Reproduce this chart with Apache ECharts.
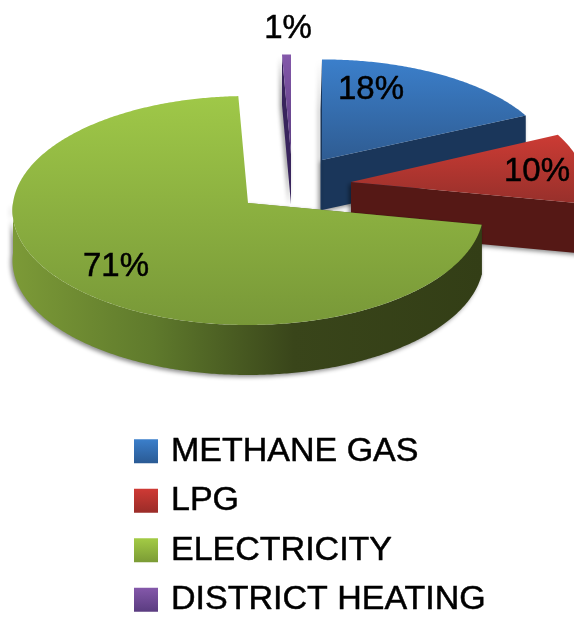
<!DOCTYPE html>
<html><head><meta charset="utf-8">
<style>html,body{margin:0;padding:0;background:#fff}#c{width:574px;height:619px}</style>
<script src="https://cdn.jsdelivr.net/npm/echarts@6/dist/echarts.min.js"></script>
</head><body><div id="c"></div>
<script>
// Data
const categories = ['METHANE GAS', 'LPG', 'ELECTRICITY', 'DISTRICT HEATING'];
const shares = [18, 10, 71.3, 0.7];

// Layout and style
const CENTER = [248, 203], RX = 235, RY = 114, PERSP = 0.0654, DEPTH = 50;
const EXPLODE = [[74, -43, 0.985, 0.94], [103, -21, 1, 1], [0, 0, 1, 1], [43, -49, 0.93, 0.93]];
const LABEL_POS = [[371, 90], [537, 172], [116, 267], [288, 29]];
const lg = (a, b, horizontal) => new echarts.graphic.LinearGradient(0, 0, horizontal ? 1 : 0, horizontal ? 0 : 1, [{offset: 0, color: a}, {offset: 1, color: b}]);
const TOP = [lg('#3b7fcb', '#2f5c92'), lg('#cc3b34', '#97302b'), lg('#9fc848', '#789838'), lg('#8458aa', '#5a3c80')];
const ICON = [lg('#3b7fcb', '#2a5a94'), lg('#cf3a35', '#9a2c28'), lg('#a3cb45', '#7b9b35'), lg('#8458aa', '#5a3c80')];
const WALL = ['#1a365a', '#551815',
  new echarts.graphic.LinearGradient(0, 0, 1, 0, [{offset: 0, color: '#7c9a37'}, {offset: 0.3, color: '#5f7a2c'}, {offset: 0.6, color: '#39451a'}, {offset: 1, color: '#333e16'}]),
  '#38245c'];

const total = shares.reduce((a, b) => a + b, 0);
const startAngle = i => shares.slice(0, i).reduce((a, b) => a + b, 0) / total * 2 * Math.PI;

function project(i, theta) {
  const e = EXPLODE[i], u = Math.sin(theta), v = Math.cos(theta), s = 1 / (1 + PERSP * v);
  return [CENTER[0] + e[0] + RX * u * s * e[2], CENTER[1] + e[1] - RY * v * s * e[3]];
}
function apex(i) { return [CENTER[0] + EXPLODE[i][0], CENTER[1] + EXPLODE[i][1]]; }
function arc(i, a0, a1) {
  const pts = [], n = Math.max(2, Math.ceil((a1 - a0) / 0.01));
  for (let k = 0; k <= n; k++) pts.push(project(i, a0 + (a1 - a0) * k / n));
  return pts;
}
const down = p => [p[0], p[1] + DEPTH];
const SHADOW = {shadowBlur: 4, shadowColor: 'rgba(0,0,0,0.45)', shadowOffsetX: -2, shadowOffsetY: 2};

function renderSlice(i) {
  return function () {
    const a0 = startAngle(i), a1 = startAngle(i + 1), c = apex(i), kids = [];
    const wall = pts => kids.push({type: 'polygon', shape: {points: pts}, style: Object.assign({fill: WALL[i]}, SHADOW)});
    // radial walls that face the viewer
    const edge = (i === 3 || i === 2) ? a0 : a1, p = project(i, edge);
    wall([c, p, down(p), down(c)]);
    if (i === 0) {
      // the slice's straight back edge is seen edge-on: only a sliver and its shadow show
      const q = project(i, a0), sliver = 1.5;
      wall([c, q, [q[0] - sliver, q[1] + DEPTH], [c[0] - sliver, c[1] + DEPTH], down(c)]);
    }
    // outer wall, front half only
    const f0 = Math.max(a0, Math.PI / 2), f1 = Math.min(a1, 3 * Math.PI / 2);
    if (f1 > f0) {
      const outer = arc(i, f0, f1);
      wall(outer.concat(outer.map(down).reverse()));
    }
    // top face
    kids.push({type: 'polygon', shape: {points: [c].concat(arc(i, a0, a1))}, style: {fill: TOP[i]}});
    // percentage label
    kids.push({type: 'text', x: LABEL_POS[i][0], y: LABEL_POS[i][1], style: {
      text: Math.round(shares[i] / total * 100) + '%', fill: '#000', stroke: '#000', lineWidth: 0.5,
      font: '33px "Liberation Sans"', align: 'center', verticalAlign: 'middle'}});
    return {type: 'group', children: kids};
  };
}

const drawOrder = [3, 0, 1, 2];
const chart = echarts.init(document.getElementById('c'), null, {renderer: 'canvas'});
chart.setOption({
  animation: false,
  backgroundColor: '#fff',
  legend: {
    orient: 'vertical', left: 134, top: 434, padding: 0, width: 440, height: 185,
    selectedMode: false, itemWidth: 24, itemHeight: 24, itemGap: 15, icon: 'rect',
    data: categories.map((name, i) => ({name, itemStyle: {color: ICON[i]}})),
    textStyle: {fontFamily: '"Liberation Sans"', fontSize: 34, color: '#000', padding: [0, 0, 0, 8],
      textBorderColor: '#000', textBorderWidth: 0.5}
  },
  series: drawOrder.map((i, z) => ({
    type: 'custom', name: categories[i], coordinateSystem: 'none', silent: true, z: z + 2,
    clip: false, data: [[shares[i]]], renderItem: renderSlice(i),
    itemStyle: {color: ICON[i]}
  }))
});
</script></body></html>
